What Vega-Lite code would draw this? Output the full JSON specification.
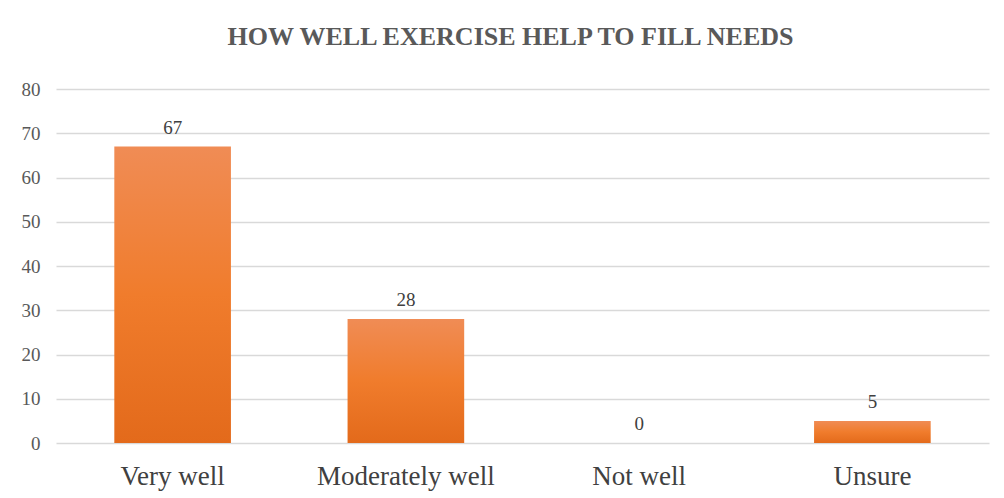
{
  "$schema": "https://vega.github.io/schema/vega-lite/v6.json",
  "width": 933,
  "height": 354,
  "autosize": "none",
  "padding": {"left": 56, "top": 89, "right": 15, "bottom": 55},
  "background": "white",
  "config": {"view": {"stroke": null}},
  "title": {
    "text": "HOW WELL EXERCISE HELP TO FILL NEEDS",
    "font": "Liberation Serif",
    "fontSize": 26,
    "fontWeight": "bold",
    "color": "#595959",
    "anchor": "middle",
    "dx": -12,
    "offset": 30
  },
  "data": {
    "values": [
      {"response": "Very well", "count": 67},
      {"response": "Moderately well", "count": 28},
      {"response": "Not well", "count": 0},
      {"response": "Unsure", "count": 5}
    ]
  },
  "encoding": {
    "x": {
      "field": "response",
      "type": "nominal",
      "sort": null,
      "scale": {"paddingInner": 0.5, "paddingOuter": 0.25},
      "axis": {
        "title": null,
        "labelAngle": 0,
        "labelFont": "Liberation Serif",
        "labelFontSize": 27,
        "labelColor": "#404040",
        "labelPadding": 20,
        "ticks": false,
        "domain": false,
        "grid": false
      }
    },
    "y": {
      "field": "count",
      "type": "quantitative",
      "scale": {"domain": [0, 80]},
      "axis": {
        "title": null,
        "values": [0, 10, 20, 30, 40, 50, 60, 70, 80],
        "labelOverlap": false,
        "labelFont": "Liberation Serif",
        "labelFontSize": 19,
        "labelColor": "#595959",
        "labelPadding": 16,
        "ticks": false,
        "domain": false,
        "grid": true,
        "gridColor": "#d9d9d9",
        "gridWidth": 1.5
      }
    }
  },
  "layer": [
    {
      "mark": {
        "type": "bar",
        "color": {
          "gradient": "linear",
          "x1": 0, "y1": 0, "x2": 0, "y2": 1,
          "stops": [
            {"offset": 0, "color": "#f08c55"},
            {"offset": 0.5, "color": "#f07c2c"},
            {"offset": 1, "color": "#e36a1b"}
          ]
        }
      }
    },
    {
      "mark": {
        "type": "text",
        "baseline": "bottom",
        "dy": -9,
        "font": "Liberation Serif",
        "fontSize": 19,
        "color": "#404040"
      },
      "encoding": {"text": {"field": "count", "type": "quantitative"}}
    }
  ]
}
